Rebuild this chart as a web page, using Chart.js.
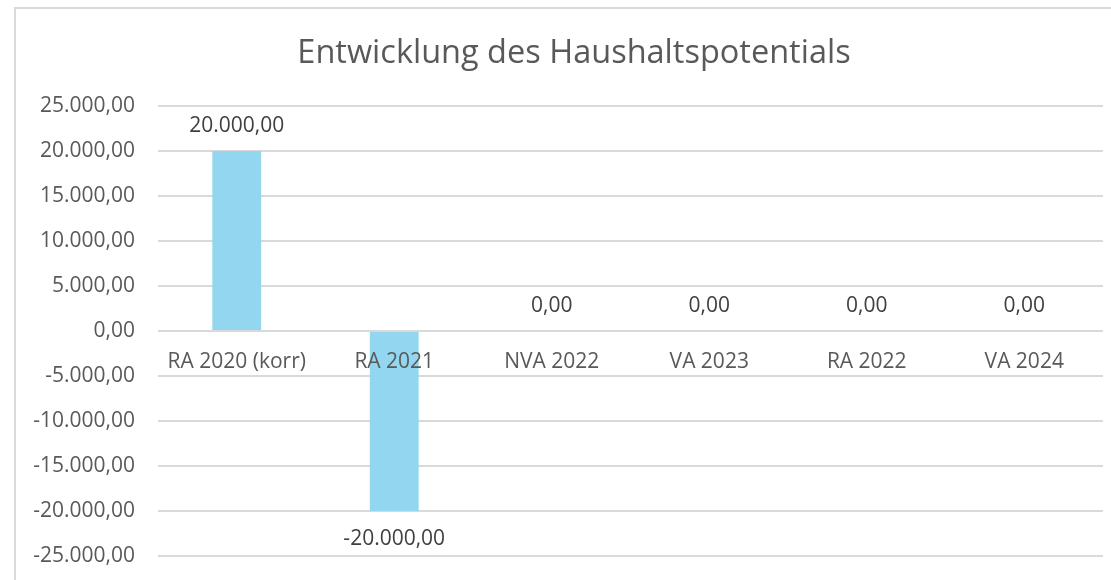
<!DOCTYPE html>
<html>
<head>
<meta charset="utf-8">
<script src="https://cdn.jsdelivr.net/npm/chart.js@4"></script>
<style>
  html, body { margin: 0; padding: 0; background: #fff; }
  #wrap { position: relative; width: 1111px; height: 580px; }
</style>
</head>
<body>
<div id="wrap"><canvas id="chart" width="1111" height="580"></canvas></div>
<script>
const title = 'Entwicklung des Haushaltspotentials';
const categories = ['RA 2020 (korr)', 'RA 2021', 'NVA 2022', 'VA 2023', 'RA 2022', 'VA 2024'];
const values = [20000, -20000, 0, 0, 0, 0];
const yTicks = [-25000, -20000, -15000, -10000, -5000, 0, 5000, 10000, 15000, 20000, 25000];

const fmt = v => v.toLocaleString('de-DE', { minimumFractionDigits: 2, maximumFractionDigits: 2 });
const FONT = '"Open Sans", sans-serif';

// frame of the chart object + title (drawn by hand so it can sit off-centre like the original)
const framePlugin = {
    id: 'frame',
    beforeDraw(chart) {
        const c = chart.ctx;
        c.save();
        c.fillStyle = '#fff';
        c.fillRect(0, 0, chart.width, chart.height);
        c.strokeStyle = '#d9d9d9';
        c.lineWidth = 2;
        c.strokeRect(15, 8, chart.width + 20, chart.height + 20);
        c.fillStyle = '#595959';
        c.font = '32.5px ' + FONT;
        c.textAlign = 'center';
        c.textBaseline = 'alphabetic';
        c.fillText(title, 574, 63);
        c.restore();
    }
};

// category names sit under the zero line, values above/below the bars
const labelPlugin = {
    id: 'labels',
    afterDatasetsDraw(chart) {
        const c = chart.ctx;
        const x = chart.scales.x, y = chart.scales.y;
        const zero = y.getPixelForValue(0);
        c.save();
        c.font = '21px ' + FONT;
        c.textAlign = 'center';
        c.textBaseline = 'middle';
        c.fillStyle = '#595959';
        categories.forEach((cat, i) => {
            c.fillText(cat, x.getPixelForValue(i), zero + 31);
        });
        c.fillStyle = '#404040';
        chart.getDatasetMeta(0).data.forEach((bar, i) => {
            const v = values[i];
            const ty = v < 0 ? bar.y + 28 : bar.y - 25;
            c.fillText(fmt(v), bar.x, ty);
        });
        c.restore();
    }
};

new Chart(document.getElementById('chart'), {
    type: 'bar',
    data: {
        labels: categories,
        datasets: [{
            data: values,
            backgroundColor: '#93d6ef',
            borderWidth: 0,
            categoryPercentage: 1,
            barPercentage: 0.31
        }]
    },
    options: {
        responsive: false,
        animation: false,
        layout: { padding: { left: 20, right: 8, top: 106, bottom: 24 } },
        plugins: {
            legend: { display: false },
            tooltip: { enabled: false },
            title: { display: false }
        },
        scales: {
            x: { display: false },
            y: {
                min: -25000,
                max: 25000,
                afterBuildTicks: s => { s.ticks = yTicks.map(v => ({ value: v })); },
                afterFit: s => { s.width = 138; s.paddingTop = 0; s.paddingBottom = 0; },
                border: { display: false },
                grid: { color: '#d9d9d9', lineWidth: 2, drawTicks: false },
                ticks: {
                    padding: 23,
                    color: '#595959',
                    font: { family: FONT, size: 21 },
                    callback: v => fmt(v)
                }
            }
        }
    },
    plugins: [framePlugin, labelPlugin]
});
</script>
</body>
</html>
